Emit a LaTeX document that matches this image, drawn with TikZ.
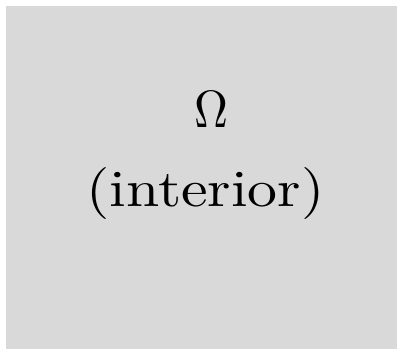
\documentclass[tikz,border=0pt]{standalone}
\begin{document}
\begin{tikzpicture}[x=1pt,y=1pt,
  lbl/.style={anchor=base, inner sep=0pt, font=\fontsize{10}{12}\selectfont, transform shape}]
\useasboundingbox (0,0) rectangle (402,355);
\fill[gray!30] (6,6) rectangle (397,349);
\node[lbl, xscale=4.7, yscale=5.25] (om) at (211.5,227) {$\Omega$};
\node[lbl, xscale=5.98, yscale=5.2] (in) at (205.5,148) {(interior)};
\end{tikzpicture}
\end{document}
